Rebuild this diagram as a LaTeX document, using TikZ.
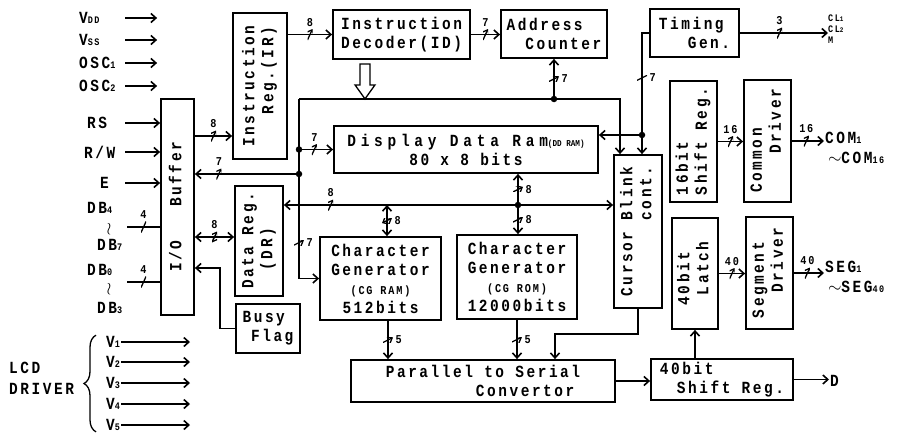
\documentclass[tikz,border=0pt]{standalone}
\usepackage{graphicx}
\usepackage{fontspec}
\setmainfont{Liberation Mono}[LetterSpace=15, FakeStretch=0.85]
\usetikzlibrary{arrows.meta,decorations.pathreplacing}

% small index digits and letters
\newcommand{\lo}[1]{{\fontsize{10}{10}\selectfont #1}}
% text turned upright inside a block
\newcommand{\vtxt}[2][l]{\rotatebox{90}{\begin{tabular}{@{}#1@{}}#2\end{tabular}}}
\newcommand{\ind}[1]{\hspace*{#1em}}

\tikzset{
  blk/.style={draw, line width=1.8pt, inner sep=0pt, align=left,
    font=\bfseries\fontsize{17}{19}\selectfont},
  lbl/.style={inner sep=1pt, font=\bfseries\fontsize{17}{20}\selectfont},
  num/.style={inner sep=1pt, font=\bfseries\fontsize{12}{12}\selectfont},
  wire/.style={line width=1.6pt},
  sig/.style={wire, -{Straight Barb[length=5pt,width=9pt]}},
  dsig/.style={wire, {Straight Barb[length=5pt,width=9pt]}-{Straight Barb[length=5pt,width=9pt]}},
  dot/.style={circle, fill, inner sep=0pt, minimum size=6.5pt},
  tk/.style={pos=.5, inner sep=0pt, minimum width=5pt, minimum height=11pt,
    path picture={\draw[line width=1.3pt] (path picture bounding box.south west) -- (path picture bounding box.north east);},
    label={[num]90:#1}},
  tkv/.style={pos=.5, inner sep=0pt, minimum width=10pt, minimum height=5pt,
    path picture={\draw[line width=1.3pt] (path picture bounding box.south west) -- (path picture bounding box.north east);},
    label={[num]0:#1}},
}

\begin{document}
\begin{tikzpicture}[x=1pt, y=-1pt]
  \useasboundingbox (0,0) rectangle (908,434);

  % blocks
  \node[blk, minimum width=33, minimum height=216] (buf) at (177.5,207) {\vtxt{I/O\ind{2}Buffer}};
  \node[blk, minimum width=54, minimum height=146] (ir) at (260,86) {\vtxt{Instruction\\\ind{1.9}Reg.(IR)}};
  \node[blk, minimum width=137, minimum height=49] (id) at (401.5,34.5) {Instruction\\Decoder(ID)};
  \node[blk, minimum width=106, minimum height=48] (ac) at (554,34) {Address\\\ind{1.1}Counter};
  \node[blk, minimum width=89, minimum height=48] (tg) at (694.5,33) {Timing\\\ind{1.7}Gen.};
  \node[blk, minimum width=264, minimum height=47, align=center] (dd) at (466,149.5)
    {{\addfontfeature{LetterSpace=28}Display Data Ram}{\fontsize{9}{9}\selectfont\addfontfeature{LetterSpace=0}(DD RAM)}\\80 x 8 bits};
  \node[blk, minimum width=48, minimum height=110] (dr) at (259,241) {\vtxt{Data Reg.\\\ind{1.1}(DR)}};
  \node[blk, minimum width=64, minimum height=49] (bf) at (268,328.5) {Busy\\\ind{0.5}Flag};
  \node[blk, minimum width=121, minimum height=83, align=center] (cgram) at (380.5,278.5)
    {Character\\Generator\\{\fontsize{12}{15}\selectfont(CG RAM)}\\512bits};
  \node[blk, minimum width=120, minimum height=84, align=center] (cgrom) at (517,277)
    {Character\\Generator\\{\fontsize{12}{15}\selectfont(CG ROM)}\\12000bits};
  \node[blk, minimum width=264, minimum height=42] (ps) at (483,381) {Parallel to Serial\\\ind{5.3}Convertor};
  \node[blk, minimum width=48, minimum height=153] (cb) at (638,231.5) {\vtxt[r]{Cursor Blink\\cont.}};
  \node[blk, minimum width=47, minimum height=121] (sr16) at (693.5,141.5) {\vtxt{16bit\\Shift Reg.}};
  \node[blk, minimum width=47, minimum height=122] (cd) at (767.5,141) {\vtxt{Common\\\ind{2.3}Driver}};
  \node[blk, minimum width=46, minimum height=111] (lat) at (695,273.5) {\vtxt{40bit\\\ind{0.6}Latch}};
  \node[blk, minimum width=47, minimum height=112] (sd) at (769.5,273) {\vtxt{Segment\\\ind{1.5}Driver}};
  \node[blk, minimum width=142, minimum height=41] (sr40) at (722,379.5) {40bit\\\ind{1}Shift Reg.};

  % inputs on the left
  \coordinate (inx) at (125,0);
  \node[lbl, anchor=west] (vdd) at (78,18) {V\lo{DD}};
  \node[lbl, anchor=west] (vss) at (78,40) {V\lo{SS}};
  \node[lbl, anchor=west] (osc1) at (78,63) {OSC\lo{1}};
  \node[lbl, anchor=west] (osc2) at (78,86) {OSC\lo{2}};
  \node[lbl, anchor=west] (rs) at (86,123) {RS};
  \node[lbl, anchor=west] (rw) at (83,152) {R/W};
  \node[lbl, anchor=west] (e) at (99,183) {E};
  \foreach \s in {vdd,vss,osc1,osc2}
    \draw[sig, shorten >=3pt] (\s -| inx) -- (\s -| buf.west);
  \foreach \s in {rs,rw,e}
    \draw[sig] (\s -| inx) -- (\s -| buf.west);

  % data bus lines
  \node[lbl, anchor=west] (db4) at (86,208) {DB\lo{4}};
  \node[lbl] (w1) at (109,229) {$\wr$};
  \node[lbl, anchor=west] (db7) at (96,245) {DB\lo{7}};
  \node[lbl, anchor=west] (db0) at (86,270) {DB\lo{0}};
  \node[lbl] (w2) at (109,289) {$\wr$};
  \node[lbl, anchor=west] (db3) at (96,308) {DB\lo{3}};
  \coordinate (d1) at (127,227);
  \coordinate (d2) at (127,282);
  \draw[wire] (d1) -- (d1 -| buf.west) node[tk=4]{};
  \draw[wire] (d2) -- (d2 -| buf.west) node[tk=4]{};

  % LCD driver levels
  \coordinate (vend) at (190,0);
  \foreach \i/\yy in {1/342,2/362,3/383,4/404,5/425} {
    \node[lbl, anchor=west] (v\i) at (105,\yy) {V\lo{\i}};
    \draw[sig] (v\i.east) -- (v\i -| vend);
  }
  \node[lbl, anchor=west, align=left, font=\bfseries\fontsize{17}{21}\selectfont] (lcd) at (8,378) {LCD\\DRIVER};
  \draw[wire, line width=1.3pt, decorate, decoration={brace, amplitude=12pt}]
    ([xshift=-9pt]v5.south west) -- ([xshift=-9pt]v1.north west);

  % buffer and registers
  \coordinate (bi) at ([yshift=-50pt]ir.west);
  \draw[sig] (bi -| buf.east) -- (bi) node[tk=8]{};
  \draw[sig] (ir.east |- id.west) -- (id.west) node[tk=8]{};
  \draw[sig] (id.east) -- (id.east -| ac.west) node[tk=7]{};
  \coordinate (bd) at ([yshift=4pt]dr.west);
  \draw[dsig] (bd -| buf.east) -- (bd) node[tk=8]{};
  \coordinate (bfk) at (220,268);
  \draw[sig] (bf.west) -| (bfk) -- (bfk -| buf.east);

  % decoder output
  \draw[line width=1.3pt] ([xshift=-41.5pt]id.south) ++(0,4) -- ++(10,0) -- ++(0,21) -- ++(5,0)
    -- ++(-10,14) -- ++(-10,-14) -- ++(5,0) -- cycle;

  % address bus
  \coordinate (lft) at (299,99);
  \coordinate (rgt) at (620,99);
  \draw[sig] (lft) -- (rgt) -- (rgt |- cb.north);
  \draw[sig] (lft) |- (cgram.west) node[tkv=7, pos=.4]{};
  \node[dot] (j1) at (lft |- dd.west) {};
  \draw[sig] (j1.center) -- (dd.west) node[tk=7, pos=.45]{};
  \node[dot] (j2) at (299,174) {};
  \draw[sig] (j2.center) -- (j2 -| buf.east) node[tk=7, pos=.77]{};
  \node[dot] (j3) at (ac.south |- lft) {};
  \draw[sig] (j3.center) -- (ac.south) node[tkv=7]{};

  % timing
  \node[dot] (j4) at (642,135) {};
  \draw[wire] (tg.west) -| (j4.center) node[tkv=7, pos=.72]{};
  \draw[sig] (j4.center) -- (j4 -| dd.east);
  \draw[sig] (j4.center) -- (j4 |- cb.north);
  \node[lbl, anchor=west, align=left, inner sep=0pt, font=\bfseries\fontsize{10}{11}\selectfont] (cl) at (828,29)
    {CL{\fontsize{7}{7}\selectfont 1}\\CL{\fontsize{7}{7}\selectfont 2}\\M};
  \draw[sig] (tg.east) -- (tg.east -| cl.west) node[tk=3, pos=.45]{};

  % data bus
  \node[dot] (j5) at (518,205) {};
  \draw[sig] (j5.center) -- (j5 -| dr.east) node[tk=8, pos=.8]{};
  \draw[sig] (j5.center) -- (j5 -| cb.west);
  \draw[sig] (j5.center) -- (j5 |- dd.south) node[tkv=8]{};
  \draw[sig] (j5.center) -- (j5 |- cgrom.north) node[tkv=8]{};
  \coordinate (cgt) at ([xshift=6.5pt]cgram.north);
  \draw[dsig] (cgt) -- (cgt |- j5) node[tkv=8]{};

  % character generators to converter
  \coordinate (cgb) at ([xshift=7.5pt]cgram.south);
  \draw[sig] (cgb) -- (cgb |- ps.north) node[tkv=5]{};
  \draw[sig] (cgrom.south) -- (cgrom.south |- ps.north) node[tkv=5]{};
  \draw[sig] (cb.south) -- ++(0,25) -| ([xshift=72pt]ps.north);

  % serial side
  \draw[sig] (ps.east) -- (ps.east -| sr40.west);
  \draw[sig] (sr40.north -| lat.south) -- (lat.south);
  \draw[sig] (lat.east) -- (lat.east -| sd.west) node[tk=40]{};
  \draw[sig] (sr16.east) -- (sr16.east -| cd.west) node[tk=16]{};
  \node[lbl, anchor=west] (dout) at (829,381) {D};
  \draw[sig] (sr40.east) -- (sr40.east -| dout.west);

  % outputs on the right
  \node[lbl, anchor=west, align=left] (com) at (824,148) {COM\lo{1}\\\,$\sim$COM\lo{16}};
  \draw[sig] (cd.east) -- (cd.east -| com.west) node[tk=16, pos=.45]{};
  \node[lbl, anchor=west, align=left] (seg) at (824,277) {SEG\lo{1}\\\,$\sim$SEG\lo{40}};
  \draw[sig] (sd.east) -- (sd.east -| seg.west) node[tk=40, pos=.45]{};
\end{tikzpicture}
\end{document}
